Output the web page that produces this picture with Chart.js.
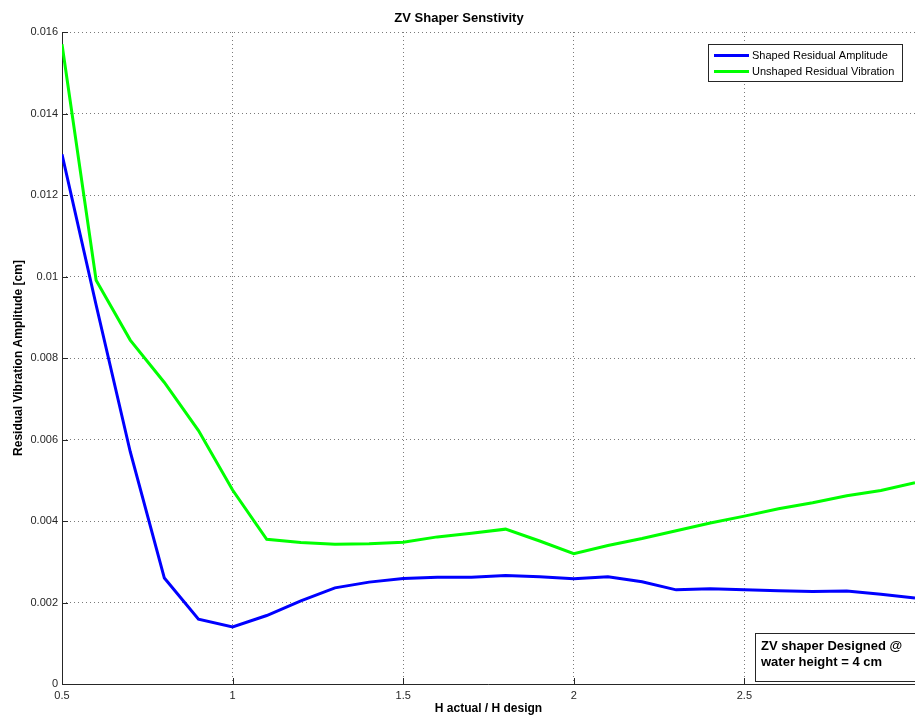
<!DOCTYPE html>
<html>
<head>
<meta charset="utf-8">
<script src="https://cdn.jsdelivr.net/npm/chart.js@4/dist/chart.umd.min.js"></script>
<style>
  html, body { margin: 0; padding: 0; background: #ffffff; }
  canvas { display: block; }
</style>
</head>
<body>
<canvas id="chart" width="915" height="718"></canvas>
<script>
// Ratio of actual to design water height
const hRatio = [0.5, 0.6, 0.7, 0.8, 0.9, 1.0, 1.1, 1.2, 1.3, 1.4, 1.5, 1.6, 1.7,
                1.8, 1.9, 2.0, 2.1, 2.2, 2.3, 2.4, 2.5, 2.6, 2.7, 2.8, 2.9, 3.0];

// Residual vibration amplitude [cm] with the ZV shaper applied
const shapedAmp = [0.0130, 0.0093, 0.0057, 0.0026, 0.00159, 0.00140, 0.00168, 0.00204, 0.00236,
                   0.00250, 0.00259, 0.00262, 0.00262, 0.00266, 0.00263, 0.00258, 0.00263,
                   0.00251, 0.00231, 0.00234, 0.00231, 0.00229, 0.00227, 0.00228, 0.00220, 0.00211];

// Residual vibration amplitude [cm] without shaping
const unshapedAmp = [0.0157, 0.00991, 0.00844, 0.00740, 0.00622, 0.00476, 0.00355, 0.00347, 0.00343,
                     0.00344, 0.00348, 0.00361, 0.00370, 0.00380, 0.00351, 0.00320, 0.00340,
                     0.00357, 0.00376, 0.00395, 0.00412, 0.00430, 0.00445, 0.00462, 0.00475, 0.00494];

const seriesNames = ['Shaped Residual Amplitude', 'Unshaped Residual Vibration'];
const xTicks = [0.5, 1, 1.5, 2, 2.5];
const yTicks = [0, 0.002, 0.004, 0.006, 0.008, 0.01, 0.012, 0.014, 0.016];
const noteLines = ['ZV shaper Designed @', 'water height = 4 cm'];

const FONT = "'Liberation Sans', Arial, Helvetica, sans-serif";
const AXIS_COLOR = '#262626';

const toPoints = ys => hRatio.map((x, i) => ({ x: x, y: ys[i] }));

// Solid left/bottom axes with inward tick marks
const axesPlugin = {
  id: 'axesPlugin',
  beforeDatasetsDraw(chart) {
    const { ctx, chartArea: a, scales } = chart;
    ctx.save();
    ctx.strokeStyle = AXIS_COLOR;
    ctx.lineWidth = 1;
    ctx.beginPath();
    ctx.moveTo(a.left + 0.5, a.top);
    ctx.lineTo(a.left + 0.5, a.bottom + 0.5);
    ctx.lineTo(chart.width, a.bottom + 0.5);
    ctx.stroke();
    ctx.beginPath();
    yTicks.forEach(v => {
      const y = Math.round(scales.y.getPixelForValue(v)) + 0.5;
      ctx.moveTo(a.left, y);
      ctx.lineTo(a.left + 6, y);
    });
    xTicks.forEach(v => {
      const x = Math.round(scales.x.getPixelForValue(v)) + 0.5;
      ctx.moveTo(x, a.bottom);
      ctx.lineTo(x, a.bottom - 6);
    });
    ctx.stroke();
    ctx.restore();
  }
};

// Legend box in the upper right and the design note in the lower right
const boxesPlugin = {
  id: 'boxesPlugin',
  afterDraw(chart) {
    const { ctx } = chart;
    ctx.save();
    // legend
    const lx = 708, ly = 44, lw = 194, lh = 37;
    ctx.fillStyle = '#ffffff';
    ctx.fillRect(lx, ly, lw, lh);
    ctx.strokeStyle = AXIS_COLOR;
    ctx.lineWidth = 1;
    ctx.strokeRect(lx + 0.5, ly + 0.5, lw, lh);
    ctx.font = '11px ' + FONT;
    ctx.textBaseline = 'middle';
    ctx.textAlign = 'left';
    chart.data.datasets.forEach((ds, i) => {
      const y = ly + 11.5 + i * 16;
      ctx.strokeStyle = ds.borderColor;
      ctx.lineWidth = 3;
      ctx.beginPath();
      ctx.moveTo(lx + 6, y);
      ctx.lineTo(lx + 41, y);
      ctx.stroke();
      ctx.fillStyle = '#000000';
      ctx.fillText(ds.label, lx + 44, y);
    });
    // design note
    const nx = 755, ny = 633, nw = 170, nh = 48;
    ctx.fillStyle = '#ffffff';
    ctx.fillRect(nx, ny, nw, nh);
    ctx.strokeStyle = AXIS_COLOR;
    ctx.lineWidth = 1;
    ctx.strokeRect(nx + 0.5, ny + 0.5, nw, nh);
    ctx.font = 'bold 13px ' + FONT;
    ctx.fillStyle = '#000000';
    noteLines.forEach((t, i) => ctx.fillText(t, nx + 6, ny + 13 + i * 16.5));
    ctx.restore();
  }
};

new Chart(document.getElementById('chart'), {
  type: 'line',
  data: {
    datasets: [
      {
        label: seriesNames[0],
        data: toPoints(shapedAmp),
        borderColor: '#0000ff',
        borderWidth: 3,
        pointRadius: 0,
        tension: 0
      },
      {
        label: seriesNames[1],
        data: toPoints(unshapedAmp),
        borderColor: '#00ff00',
        borderWidth: 3,
        pointRadius: 0,
        tension: 0
      }
    ]
  },
  options: {
    responsive: false,
    animation: false,
    devicePixelRatio: 1,
    layout: { padding: { top: 0, left: 0, bottom: 0, right: -3 } },
    plugins: {
      legend: { display: false },
      tooltip: { enabled: false },
      title: {
        display: true,
        text: 'ZV Shaper Senstivity',
        color: '#000000',
        font: { family: FONT, size: 13, weight: 'bold', lineHeight: 1.2 },
        padding: { top: 11, bottom: 5.4 }
      }
    },
    scales: {
      x: {
        type: 'linear',
        min: 0.5,
        max: 3.0,
        afterFit(scale) { scale.height = 34; },
        afterBuildTicks(scale) { scale.ticks = xTicks.map(v => ({ value: v })); },
        ticks: {
          color: AXIS_COLOR,
          font: { family: FONT, size: 11 },
          padding: 5,
          maxRotation: 0,
          autoSkip: false,
          callback: v => String(v)
        },
        grid: {
          color: '#7a7a7a',
          lineWidth: 1,
          drawTicks: false
        },
        border: { display: false, dash: [1, 3] },
        title: {
          display: true,
          text: 'H actual / H design',
          color: '#000000',
          font: { family: FONT, size: 12, weight: 'bold', lineHeight: 1.2 },
          padding: { top: 0, bottom: 2 }
        }
      },
      y: {
        type: 'linear',
        min: 0,
        max: 0.016,
        afterFit(scale) { scale.width = 62; },
        afterBuildTicks(scale) { scale.ticks = yTicks.map(v => ({ value: v })); },
        ticks: {
          color: AXIS_COLOR,
          font: { family: FONT, size: 11 },
          padding: 4,
          callback: v => String(Number(v.toFixed(3)))
        },
        grid: {
          color: '#7a7a7a',
          lineWidth: 1,
          drawTicks: false
        },
        border: { display: false, dash: [1, 3] },
        title: {
          display: true,
          text: 'Residual Vibration Amplitude [cm]',
          color: '#000000',
          font: { family: FONT, size: 12, weight: 'bold', lineHeight: 1.2 },
          padding: { top: 11, bottom: 0 }
        }
      }
    }
  },
  plugins: [axesPlugin, boxesPlugin]
});
</script>
</body>
</html>
